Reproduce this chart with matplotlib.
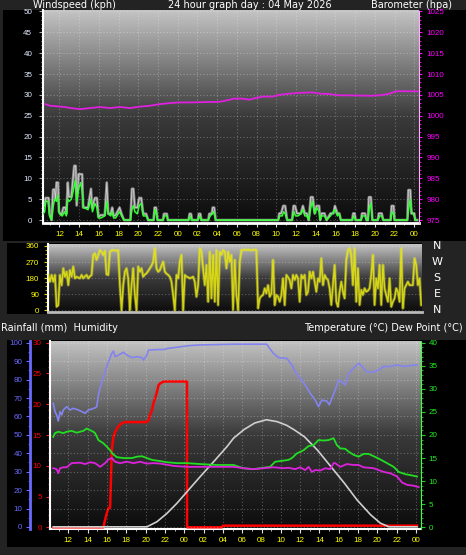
import numpy as np
import matplotlib
matplotlib.use("Agg")
import matplotlib.pyplot as plt
from matplotlib.patches import Rectangle
from matplotlib.ticker import MultipleLocator, FixedLocator
from matplotlib.colors import LinearSegmentedColormap
import matplotlib.transforms as mtransforms

# ---------------- data (time in hours from 00:00 of the first day) ----------------
title_left = "Windspeed (kph)"
title_mid = "24 hour graph day : 04 May 2026"
title_right = "Barometer (hpa)"
title3_left = "Rainfall (mm)  Humidity"
title3_right = "Temperature (\u00b0C) Dew Point (\u00b0C)"

tick_hours = [12, 14, 16, 18, 20, 22, 24, 26, 28, 30, 32, 34, 36, 38, 40, 42, 44, 46, 48]
tick_labels = ["12", "14", "16", "18", "20", "22", "00", "02", "04", "06", "08", "10",
               "12", "14", "16", "18", "20", "22", "00"]

baro_time = [10.55, 11.06, 12.58, 13.08, 14.10, 15.11, 16.12, 17.14, 18.15, 19.16, 20.18, 21.19,
             22.20, 23.22, 24.23, 25.24, 26.25, 27.27, 28.28, 29.30, 29.60, 30.61, 31.29, 31.62,
             32.64, 33.65, 34.36, 35.34, 36.39, 37.70, 38.38, 39.43, 40.41, 41.45, 43.48, 44.49,
             45.50, 46.14, 46.52, 48.34]
baro_hpa = [1002.8, 1002.4, 1002.1, 1001.85, 1001.6, 1001.85, 1002.1, 1001.85, 1002.1, 1001.85,
            1002.2, 1002.4, 1002.8, 1003.05, 1003.2, 1003.2, 1003.25, 1003.3, 1003.35, 1003.85,
            1004.1, 1004.1, 1003.85, 1004.1, 1004.6, 1004.6, 1005.05, 1005.3, 1005.5, 1005.6,
            1005.3, 1005.2, 1004.9, 1004.9, 1004.8, 1004.9, 1005.3, 1005.85, 1005.9, 1005.85]

gust = [(10.35, 3.5), (10.5, 3.5), (10.6, 5.3), (10.9, 5.3), (11.0, 1.5), (11.2, 0), (11.35, 7.3),
        (11.5, 7.3), (11.6, 5), (11.7, 9), (11.85, 9), (11.95, 2), (12.2, 1.2), (12.4, 3), (12.6, 3),
        (12.7, 1.5), (12.85, 9), (12.95, 5.6), (13.2, 5.6), (13.5, 13), (13.65, 13), (13.75, 3.5),
        (13.95, 11), (14.3, 11), (14.4, 3), (14.9, 3), (15.2, 7.5), (15.3, 3), (15.6, 5.3), (15.8, 5.3),
        (15.95, 0.8), (16.2, 1.2), (16.6, 1.2), (16.8, 9), (16.95, 1.5), (17.2, 1.5), (17.35, 3),
        (17.5, 1), (17.7, 1.2), (18.1, 3), (18.3, 1.5), (18.55, 0), (19.2, 0), (19.35, 7.5), (19.5, 7.5),
        (19.65, 3), (19.9, 3), (20.1, 5.3), (20.3, 5.3), (20.5, 1.5), (20.8, 1.5), (21.0, 0), (21.55, 0),
        (21.65, 3), (21.8, 3), (21.95, 0), (22.5, 0), (22.6, 1.5), (22.9, 1.5), (23.0, 0), (25.1, 0),
        (25.2, 1.5), (25.35, 1.5), (25.45, 0), (26.05, 0), (26.15, 1.5), (26.3, 1.5), (26.4, 0),
        (27.1, 0), (27.2, 1.5), (27.45, 1.5), (27.55, 3), (27.7, 3), (27.85, 0), (34.2, 0), (34.3, 1.6),
        (34.5, 1.6), (34.7, 3.4), (34.9, 3.4), (35.1, 0), (35.6, 0), (35.75, 3.4), (35.9, 3.4),
        (36.1, 1.6), (36.5, 1.6), (36.7, 3.4), (36.9, 1.6), (37.1, 1.6), (37.3, 0), (37.5, 5.5),
        (37.7, 5.5), (37.9, 1.6), (38.1, 3.4), (38.35, 3.4), (38.45, 0), (38.6, 1.6), (38.9, 1.6),
        (39.1, 0), (39.5, 1.6), (39.8, 1.6), (39.95, 3.4), (40.2, 1.6), (40.4, 1.6), (40.55, 0),
        (41.7, 0), (41.8, 1.6), (41.95, 1.6), (42.05, 0), (42.6, 0), (42.7, 1.6), (43.0, 1.6),
        (43.15, 0), (43.3, 0), (43.4, 5.5), (43.6, 5.5), (43.75, 0), (44.3, 0), (44.4, 1.6), (44.7, 1.6),
        (44.85, 0), (45.6, 0), (45.7, 3.4), (45.9, 3.4), (46.0, 0), (47.3, 0), (47.4, 7.2), (47.6, 7.2),
        (47.7, 1.6), (48.0, 1.6), (48.1, 0), (48.3, 0)]

wind = [(10.35, 1.5), (10.5, 2), (10.6, 4.5), (10.85, 4.5), (11.0, 1), (11.2, 0), (11.35, 3), (11.5, 5),
        (11.7, 4.5), (11.85, 6), (12.0, 1.5), (12.3, 1), (12.5, 2), (12.7, 1), (12.85, 5), (13.0, 4.5),
        (13.2, 5), (13.4, 7), (13.6, 9.5), (13.75, 4.5), (13.95, 7.5), (14.15, 9), (14.3, 7), (14.45, 3),
        (14.9, 2.5), (15.2, 5), (15.35, 2), (15.6, 4), (15.8, 3), (15.95, 0.5), (16.2, 0.5), (16.6, 1),
        (16.8, 4.5), (16.95, 1.5), (17.2, 1), (17.35, 2), (17.5, 0.5), (17.7, 0.5), (18.1, 2), (18.3, 1),
        (18.55, 0), (19.2, 0), (19.35, 2.5), (19.5, 3.5), (19.65, 2), (19.9, 1.5), (20.1, 3.5), (20.3, 4),
        (20.5, 1), (20.8, 1), (21.0, 0), (21.55, 0), (21.7, 2.5), (21.8, 2), (21.95, 0), (22.5, 0),
        (22.65, 1), (22.9, 1), (23.0, 0), (25.1, 0), (25.25, 1), (25.4, 0), (26.05, 0), (26.2, 1),
        (26.4, 0), (27.1, 0), (27.3, 1), (27.5, 1.5), (27.65, 2), (27.85, 0), (34.2, 0), (34.35, 1),
        (34.6, 1), (34.75, 2), (34.9, 1.5), (35.1, 0), (35.6, 0), (35.8, 2), (35.95, 1), (36.2, 1),
        (36.5, 1.5), (36.7, 2.5), (36.9, 1), (37.1, 1), (37.3, 0), (37.5, 3), (37.65, 4.5), (37.9, 1.5),
        (38.1, 3), (38.35, 2), (38.45, 0), (38.6, 1), (38.9, 1), (39.1, 0), (39.5, 1), (39.8, 2),
        (39.95, 2.5), (40.2, 1), (40.4, 1.5), (40.55, 0), (41.7, 0), (41.85, 1), (42.05, 0), (42.6, 0),
        (42.75, 1), (43.0, 1), (43.15, 0), (43.3, 0), (43.45, 3), (43.6, 4), (43.75, 0), (44.3, 0),
        (44.5, 1), (44.7, 1), (44.85, 0), (45.6, 0), (45.75, 2), (45.9, 1.5), (46.0, 0), (47.3, 0),
        (47.45, 3), (47.6, 5), (47.75, 2), (48.0, 1), (48.1, 0), (48.3, 0)]

# wind direction, sampled about every 10 minutes from 10:18 to 00:24
dir_start, dir_end = 10.3, 48.4
dir_deg = [198, 160, 198, 160, 198, 20, 29, 198, 140, 235,
           188, 216, 141, 225, 188, 245, 179, 188, 183, 179,
           198, 179, 190, 198, 179, 190, 198, 310, 319, 282,
           310, 337, 328, 310, 332, 201, 198, 328, 335, 337,
           335, 333, 337, 141, 0, 141, 216, 235, 179, 0,
           141, 235, 86, 0, 245, 216, 235, 188, 200, 207,
           220, 235, 250, 272, 347, 235, 216, 225, 250, 272,
           216, 205, 198, 188, 160, 86, 0, 198, 179, 272,
           310, 0, 198, 188, 185, 179, 183, 188, 160, 76,
           141, 347, 328, 235, 141, 254, 48, 328, 67, 310,
           48, 337, 29, 328, 310, 337, 328, 235, 328, 272,
           310, 2, 282, 86, 0, 272, 337, 337, 340, 337,
           340, 337, 337, 337, 340, 337, 11, 67, 80, 86,
           123, 95, 141, 76, 95, 282, 29, 86, 76, 48,
           86, 179, 29, 198, 185, 170, 123, 198, 170, 198,
           179, 48, 198, 179, 198, 86, 104, 216, 179, 216,
           160, 104, 179, 160, 291, 141, 198, 179, 170, 123,
           30, 141, 254, 48, 20, 104, 160, 104, 67, 282,
           337, 347, 310, 141, 347, 48, 235, 30, 114, 86,
           123, 104, 110, 123, 198, 310, 30, 179, 123, 254,
           30, 254, 123, 86, 48, 179, 20, 48, 67, 123,
           104, 48, 347, 11, 123, 141, 160, 141, 141, 141,
           291, 254, 141, 179, 30]
dir_names = ["N", "E", "S", "W", "N"]
dir_ticks = [0, 90, 180, 270, 360]

humidity = [(10.44, 67.1), (10.62, 62.6), (10.79, 60.8), (10.96, 57.5), (11.14, 62.6), (11.31, 60.8),
            (11.48, 63.5), (11.83, 65.3), (12.17, 63.5), (12.52, 64.4), (13.04, 63.5), (13.39, 62.6),
            (13.74, 61.7), (14.07, 63.5), (14.42, 64.0), (14.77, 64.7), (14.94, 65.3), (15.11, 71.6),
            (15.46, 78.9), (15.8, 84.3), (16.15, 89.7), (16.5, 94.2), (16.67, 95.5), (16.84, 92.4),
            (17.18, 93.3), (17.7, 94.8), (18.06, 93.3), (18.58, 91.9), (19.1, 92.4), (19.62, 91.9),
            (19.78, 90.6), (20.13, 93.3), (20.3, 96.0), (21.17, 96.3), (21.86, 96.3), (22.38, 97.0),
            (22.9, 97.3), (24.45, 98.4), (25.66, 98.8), (29.1, 99.2), (32.55, 99.2), (32.72, 97.8),
            (33.24, 94.2), (33.76, 91.9), (34.62, 91.5), (35.14, 87.9), (35.48, 84.3), (36.0, 80.7),
            (36.52, 77.1), (37.04, 72.6), (37.56, 68.9), (37.9, 65.3), (38.25, 68.9), (38.77, 68.3),
            (39.01, 66.3), (39.28, 69.8), (39.63, 74.4), (39.98, 79.8), (40.32, 78.9), (40.67, 77.1),
            (41.01, 83.4), (41.36, 85.2), (41.71, 87.1), (42.05, 88.9), (42.4, 87.1), (42.92, 84.1),
            (43.61, 84.1), (44.13, 85.2), (44.64, 87.1), (45.34, 87.1), (46.03, 88.0), (46.72, 87.1),
            (47.42, 87.6), (48.1, 88.0)]

temperature = [(10.44, 19.6), (10.62, 20.4), (10.96, 20.7), (11.48, 20.4), (11.83, 20.7), (12.34, 20.9),
               (12.86, 20.5), (13.56, 20.9), (13.9, 21.4), (14.59, 20.7), (14.77, 20.4), (15.11, 18.9),
               (15.63, 18.2), (16.15, 17.1), (16.32, 16.7), (16.6, 15.9), (17.01, 15.2), (17.7, 15.0),
               (18.58, 15.0), (19.1, 15.3), (19.62, 15.4), (20.13, 15.0), (20.66, 14.6), (21.34, 14.4),
               (22.2, 14.1), (23.24, 13.9), (24.28, 13.9), (25.66, 13.7), (27.39, 13.5), (29.1, 13.5),
               (30.12, 12.8), (31.16, 12.6), (32.2, 12.9), (32.89, 13.1), (33.41, 14.2), (34.1, 14.4),
               (34.79, 14.6), (35.14, 15.0), (35.66, 16.0), (36.35, 16.7), (36.87, 17.6), (37.39, 17.8),
               (37.9, 18.9), (38.42, 18.8), (38.94, 18.9), (39.46, 19.3), (39.8, 17.8), (40.15, 17.1),
               (40.67, 17.0), (41.01, 16.4), (41.53, 15.7), (42.05, 15.3), (42.57, 15.9), (43.09, 15.9),
               (43.61, 15.4), (44.3, 14.7), (44.99, 13.9), (45.68, 13.1), (46.2, 12.0), (46.9, 11.5),
               (47.42, 11.3), (48.1, 11.0)]

dew_point = [(10.44, 12.8), (10.79, 12.6), (10.96, 11.7), (11.14, 12.8), (11.48, 13.0), (11.83, 13.0),
             (12.34, 13.9), (13.21, 14.0), (13.74, 13.7), (14.25, 14.1), (14.77, 13.9), (15.29, 13.1),
             (15.8, 13.9), (16.15, 14.7), (16.5, 15.0), (16.84, 14.2), (17.36, 13.9), (18.06, 14.2),
             (18.75, 13.9), (19.44, 14.2), (20.13, 13.8), (20.82, 13.9), (21.52, 13.8), (22.9, 13.3),
             (24.28, 13.1), (25.66, 13.1), (29.1, 13.1), (30.12, 12.8), (31.16, 12.6), (32.2, 12.8),
             (33.24, 13.0), (34.27, 12.8), (34.79, 12.9), (35.48, 12.6), (36.0, 13.0), (36.52, 12.4),
             (36.87, 13.1), (37.21, 12.0), (37.56, 12.4), (38.08, 12.3), (38.6, 12.8), (39.11, 12.6),
             (39.46, 13.9), (39.63, 13.9), (40.15, 13.1), (40.84, 13.7), (41.53, 13.5), (42.05, 13.5),
             (42.57, 13.0), (43.61, 12.8), (44.64, 12.0), (45.34, 11.7), (46.03, 11.0), (46.55, 9.7),
             (47.07, 9.2), (47.76, 9.0), (48.27, 8.7)]

sun_curve = [(10.44, 0.1), (20.13, 0.1), (21.17, 1.2), (22.2, 3.0), (23.24, 5.2), (24.28, 7.7),
             (25.66, 11.0), (27.04, 14.2), (28.43, 17.5), (29.1, 19.3), (30.2, 21.2), (31.3, 22.6),
             (32.5, 23.3), (33.6, 22.9), (34.6, 22.1), (35.4, 21.1), (36.45, 19.6), (37.8, 16.7),
             (39.2, 13.1), (40.6, 9.5), (41.9, 5.9), (43.3, 2.7), (44.3, 0.9), (45.2, 0.1), (48.1, 0.1)]

rainfall = [(10.44, 0), (15.63, 0), (15.8, 1.2), (15.98, 2.3), (16.15, 3.1), (16.32, 3.2), (16.5, 12.6),
            (16.67, 14.7), (16.84, 15.5), (17.18, 16.4), (17.53, 16.9), (17.87, 17.1), (20.13, 17.1),
            (20.3, 17.4), (20.47, 18.3), (20.65, 19.0), (20.82, 20.2), (20.99, 21.0), (21.17, 22.0),
            (21.34, 23.1), (21.52, 23.4), (21.86, 23.7), (24.28, 23.7), (24.29, 0), (27.9, 0),
            (28.0, 0.26), (48.1, 0.26)]

# ---------------- figure ----------------
W, H = 466, 555
fig = plt.figure(figsize=(W / 100, H / 100), dpi=100)
fig.patch.set_facecolor("#232323")
TXT = ["DejaVu Sans"]
TICKF = ["Liberation Sans", "DejaVu Sans"]


def box(l, t, r, b):
    return [l / W, 1 - b / H, (r - l) / W, (b - t) / H]


for (l, t, r, b) in [(3, 9.5, 466, 240.5), (7, 243, 422, 314), (7, 340, 466, 547)]:
    fig.patches.append(Rectangle((l / W, 1 - b / H), (r - l) / W, (b - t) / H,
                                 transform=fig.transFigure, facecolor="black",
                                 edgecolor="none", zorder=-5))

bg_cmap = LinearSegmentedColormap.from_list("bg", ["#0c0c0c", "#3a3a3a", "#c4c4c4"])
grad = np.linspace(0, 1, 256).reshape(-1, 1)
GRID = dict(color="white", alpha=0.28, linestyle=(0, (1, 2)), linewidth=0.8)


def background(ax):
    x0, x1 = ax.get_xlim()
    y0, y1 = ax.get_ylim()
    ax.imshow(grad, extent=(x0, x1, y0, y1), aspect="auto", cmap=bg_cmap,
              origin="lower", zorder=0, interpolation="bilinear")
    ax.set_xlim(x0, x1)
    ax.set_ylim(y0, y1)


def hide_spines(ax, keep=()):
    for k, s in ax.spines.items():
        s.set_visible(k in keep)


def set_font(labels, family, size):
    for lb in labels:
        lb.set_family(family)
        lb.set_fontsize(size)


# ---- panel 1: wind speed & barometer ----
ax1 = fig.add_axes(box(42.7, 10, 418.7, 223))
ax1.set_facecolor("none")
ax1.set_xlim(10.3, 48.45)
ax1.set_ylim(-0.7, 50.35)
background(ax1)
ax1.xaxis.set_major_locator(FixedLocator(tick_hours))
ax1.set_xticklabels(tick_labels)
ax1.xaxis.set_minor_locator(MultipleLocator(1))
ax1.yaxis.set_major_locator(MultipleLocator(5))
ax1.yaxis.set_minor_locator(MultipleLocator(1))
ax1.grid(True, which="major", **GRID)
ax1.tick_params(axis="x", which="both", colors="#dddddd", labelcolor="#ffff00", length=3, pad=2.5)
ax1.tick_params(axis="x", which="minor", length=1.5)
ax1.tick_params(axis="y", which="both", colors="#aaaaaa", labelcolor="#e4ecff", length=3, pad=4.5)
ax1.tick_params(axis="y", which="minor", length=1.5)
set_font(ax1.get_xticklabels() + ax1.get_yticklabels(), TICKF, 5.8)
hide_spines(ax1, ("left", "bottom"))
ax1.spines["left"].set_color("white")
ax1.spines["left"].set_linewidth(1.5)
ax1.spines["bottom"].set_color("white")
ax1.spines["bottom"].set_linewidth(2)

gt, gv = np.array(gust).T
wt, wv = np.array(wind).T
ax1.plot(gt, gv, color="#d4d4d4", lw=1.9, alpha=0.6, zorder=3)
ax1.plot(gt, gv, color="#eeeeee", lw=0.6, alpha=0.7, zorder=3)
ax1.plot(wt, wv, color="#33ff33", lw=1.1, zorder=4)

ax1b = ax1.twinx()
ax1b.set_ylim(974.3, 1025.35)
ax1b.yaxis.set_major_locator(MultipleLocator(5))
ax1b.yaxis.set_minor_locator(MultipleLocator(1))
hide_spines(ax1b, ("right",))
ax1b.spines["right"].set_color("#ffb0ff")
ax1b.spines["right"].set_linestyle((0, (1, 1)))
ax1b.tick_params(axis="y", which="both", colors="#ff00ff", labelcolor="#ff00ff", length=2.5, pad=3)
ax1b.tick_params(axis="y", which="minor", length=1.5)
set_font(ax1b.get_yticklabels(), TICKF, 5.8)
ax1b.plot(baro_time, baro_hpa, color="#e020e0", lw=1.3, zorder=5)

fig.text(33 / W, 1 - 8.5 / H, title_left, color="white", fontsize=7.0, family=TXT, va="baseline")
fig.text(250 / W, 1 - 8.5 / H, title_mid, color="white", fontsize=7.0, family=TXT, va="baseline", ha="center")
fig.text(371 / W, 1 - 8.5 / H, title_right, color="white", fontsize=7.0, family=TXT, va="baseline")

# ---- panel 2: wind direction ----
ax2 = fig.add_axes(box(48.3, 244.3, 421.7, 312.3))
ax2.set_facecolor("none")
ax2.set_xlim(10.3, 48.45)
ax2.set_ylim(-11, 369.5)
background(ax2)
ax2.set_xticks([])
ax2.yaxis.set_major_locator(FixedLocator(dir_ticks))
ax2.yaxis.set_minor_locator(MultipleLocator(22.5))
ax2.grid(True, axis="y", which="major", **GRID)
ax2.tick_params(axis="y", which="both", colors="#d8d800", labelcolor="#ffff00", length=3, pad=3.5)
ax2.tick_params(axis="y", which="minor", length=2)
set_font(ax2.get_yticklabels(), TICKF, 5.8)
hide_spines(ax2, ("left", "bottom"))
ax2.spines["left"].set_color("white")
ax2.spines["left"].set_linewidth(1.5)
ax2.spines["bottom"].set_color("#bbbbbb")
ax2.spines["bottom"].set_linewidth(2)
dt = np.linspace(dir_start, dir_end, len(dir_deg))
ax2.plot(dt, dir_deg, color="#f0f040", lw=2.2, alpha=0.35, zorder=3)
ax2.plot(dt, dir_deg, color="#e6e610", lw=1.1, alpha=0.85, zorder=4)
tr = mtransforms.blended_transform_factory(ax2.transAxes, ax2.transData)
for v, name in zip(dir_ticks, dir_names):
    ax2.text(1.041, v, name, transform=tr, color="white", fontsize=8, family=TXT,
             ha="center", va="center", clip_on=False)

# ---- panel 3: rain / humidity / temperature ----
ax3 = fig.add_axes(box(50, 340.7, 420.7, 529))
ax3.set_facecolor("none")
ax3.set_xlim(10.1, 48.48)
ax3.set_ylim(-0.28, 30.33)
background(ax3)
ax3.xaxis.set_major_locator(FixedLocator(tick_hours))
ax3.set_xticklabels(tick_labels)
ax3.xaxis.set_minor_locator(MultipleLocator(1))
ax3.yaxis.set_major_locator(MultipleLocator(5))
ax3.yaxis.set_minor_locator(MultipleLocator(1))
ax3.grid(True, axis="x", which="major", **GRID)
ax3.tick_params(axis="x", which="both", colors="#dddddd", labelcolor="#ffff00", length=3, pad=2.5)
ax3.tick_params(axis="x", which="minor", length=1.5)
ax3.tick_params(axis="y", which="both", colors="#ff2020", labelcolor="#ff0000", length=3, pad=3)
ax3.tick_params(axis="y", which="minor", length=1.5)
set_font(ax3.get_xticklabels() + ax3.get_yticklabels(), TICKF, 5.8)
hide_spines(ax3, ("left", "bottom"))
ax3.spines["left"].set_color("white")
ax3.spines["left"].set_linewidth(1.5)
ax3.spines["bottom"].set_color("white")
ax3.spines["bottom"].set_linewidth(1.5)
rt, rv = np.array(rainfall).T
ax3.plot(rt, rv, color="#ff0000", lw=1.8, zorder=6)

ax3h = ax3.twinx()
ax3h.set_ylim(-1.09, 101.1)
hide_spines(ax3h, ("left",))
ax3h.spines["left"].set_position(("axes", -0.0553))
ax3h.spines["left"].set_color("#6a6aff")
ax3h.spines["left"].set_linewidth(2)
ax3h.yaxis.set_ticks_position("left")
ax3h.yaxis.set_major_locator(MultipleLocator(10))
ax3h.yaxis.set_minor_locator(MultipleLocator(5))
ax3h.grid(True, axis="y", which="major", **GRID)
ax3h.tick_params(axis="y", which="both", colors="#6a6aff", labelcolor="#6a6aff", length=3, pad=2)
ax3h.tick_params(axis="y", which="minor", length=1.5)
set_font(ax3h.get_yticklabels(), TICKF, 5.8)
ht, hv = np.array(humidity).T
ax3h.plot(ht, hv, color="#8484f0", lw=1.2, zorder=3)

ax3t = ax3.twinx()
ax3t.set_ylim(-0.37, 40.43)
hide_spines(ax3t, ("right",))
ax3t.spines["right"].set_color("#40ff40")
ax3t.spines["right"].set_linestyle((0, (1, 1)))
ax3t.yaxis.set_major_locator(MultipleLocator(5))
ax3t.yaxis.set_minor_locator(MultipleLocator(1))
ax3t.tick_params(axis="y", which="both", colors="#22cc22", labelcolor="#22ee22", length=3, pad=2.5)
ax3t.tick_params(axis="y", which="minor", length=1.5)
set_font(ax3t.get_yticklabels(), TICKF, 5.8)
st, sv = np.array(sun_curve).T
tt, tv = np.array(temperature).T
dpt, dpv = np.array(dew_point).T
ax3t.plot(st, sv, color="#cfcfcf", lw=1.2, zorder=3)
ax3t.plot(tt, tv, color="#22dd22", lw=1.3, zorder=4)
ax3t.plot(dpt, dpv, color="#dd22dd", lw=1.3, zorder=5)

fig.text(1 / W, 1 - 331 / H, title3_left, color="white", fontsize=7.0, family=TXT, va="baseline")
fig.text(463 / W, 1 - 331 / H, title3_right, color="white", fontsize=7.0, family=TXT,
         va="baseline", ha="right")

fig.savefig("out.png", dpi=100, facecolor=fig.get_facecolor())
